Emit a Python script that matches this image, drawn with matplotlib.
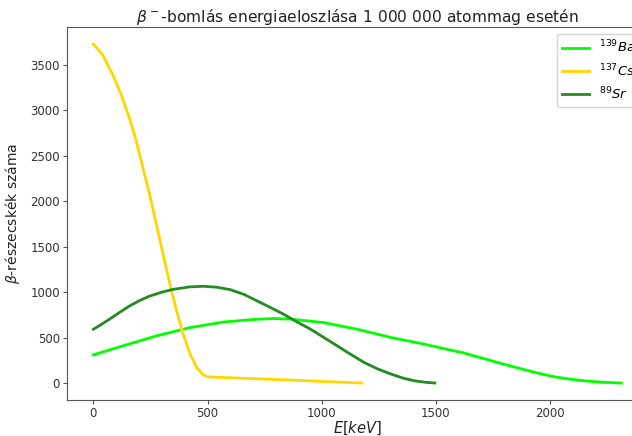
import numpy as np
import matplotlib
matplotlib.use('Agg')
import matplotlib.pyplot as plt

# energiák (keV) és részecskeszámok
ba_E = [0, 129, 276, 423, 569, 716, 790, 863, 1009, 1156, 1303, 1449, 1559, 1620,
        1708, 1796, 1928, 2016, 2080, 2148, 2230, 2312]
ba_N = [310, 409, 519, 610, 672, 702, 710, 704, 665, 592, 501, 428, 365, 332,
        270, 208, 120, 70, 45, 25, 8, 0]

cs_E = [0, 41, 85, 122, 158, 188, 217, 246, 276, 305, 335, 364, 393, 423, 452, 481,
        497, 511, 600, 863, 1000, 1176]
cs_N = [3730, 3611, 3392, 3172, 2917, 2661, 2368, 2076, 1747, 1418, 1089, 797, 541, 321, 175, 90,
        72, 66, 58, 33, 18, 0]

sr_E = [0, 35, 70, 115, 158, 200, 246, 300, 349, 420, 481, 540, 599, 660, 716, 775, 833,
        890, 951, 1010, 1068, 1125, 1185, 1245, 1303, 1355, 1405, 1455, 1495]
sr_N = [592, 645, 702, 778, 848, 905, 957, 1000, 1031, 1058, 1065, 1055, 1028, 975, 905, 832, 757,
        675, 592, 500, 409, 318, 227, 155, 99, 55, 25, 8, 0]

labels = ['$^{139}Ba$', '$^{137}Cs$', '$^{89}Sr$']
colors = ['#00FF00', '#FFD700', '#228B22']

fig = plt.figure(figsize=(6.32, 4.36), dpi=100)
ax = fig.add_axes([0.106, 0.0826, 0.919, 0.855])

ax.plot(ba_E, ba_N, color=colors[0], linewidth=2, label=labels[0])
ax.plot(cs_E, cs_N, color=colors[1], linewidth=2, label=labels[1])
ax.plot(sr_E, sr_N, color=colors[2], linewidth=2, label=labels[2])

ax.set_title(r'$\beta^-$-bomlás energiaeloszlása 1 000 000 atommag esetén', fontsize=11.2,
             color='#222222', pad=4)
ax.set_xlabel('$E[keV]$', fontsize=10.5, color='#222222', labelpad=0)
ax.set_ylabel(r'$\beta$-részecskék száma', fontsize=10, color='#222222', labelpad=6)

for s in ax.spines.values():
    s.set_color('#555555')
ax.tick_params(colors='#555555', labelcolor='#333333', labelsize=8.5, length=3, pad=2)

ax.legend(loc='upper right', fontsize=9.5)

fig.savefig('out.png', dpi=100)
